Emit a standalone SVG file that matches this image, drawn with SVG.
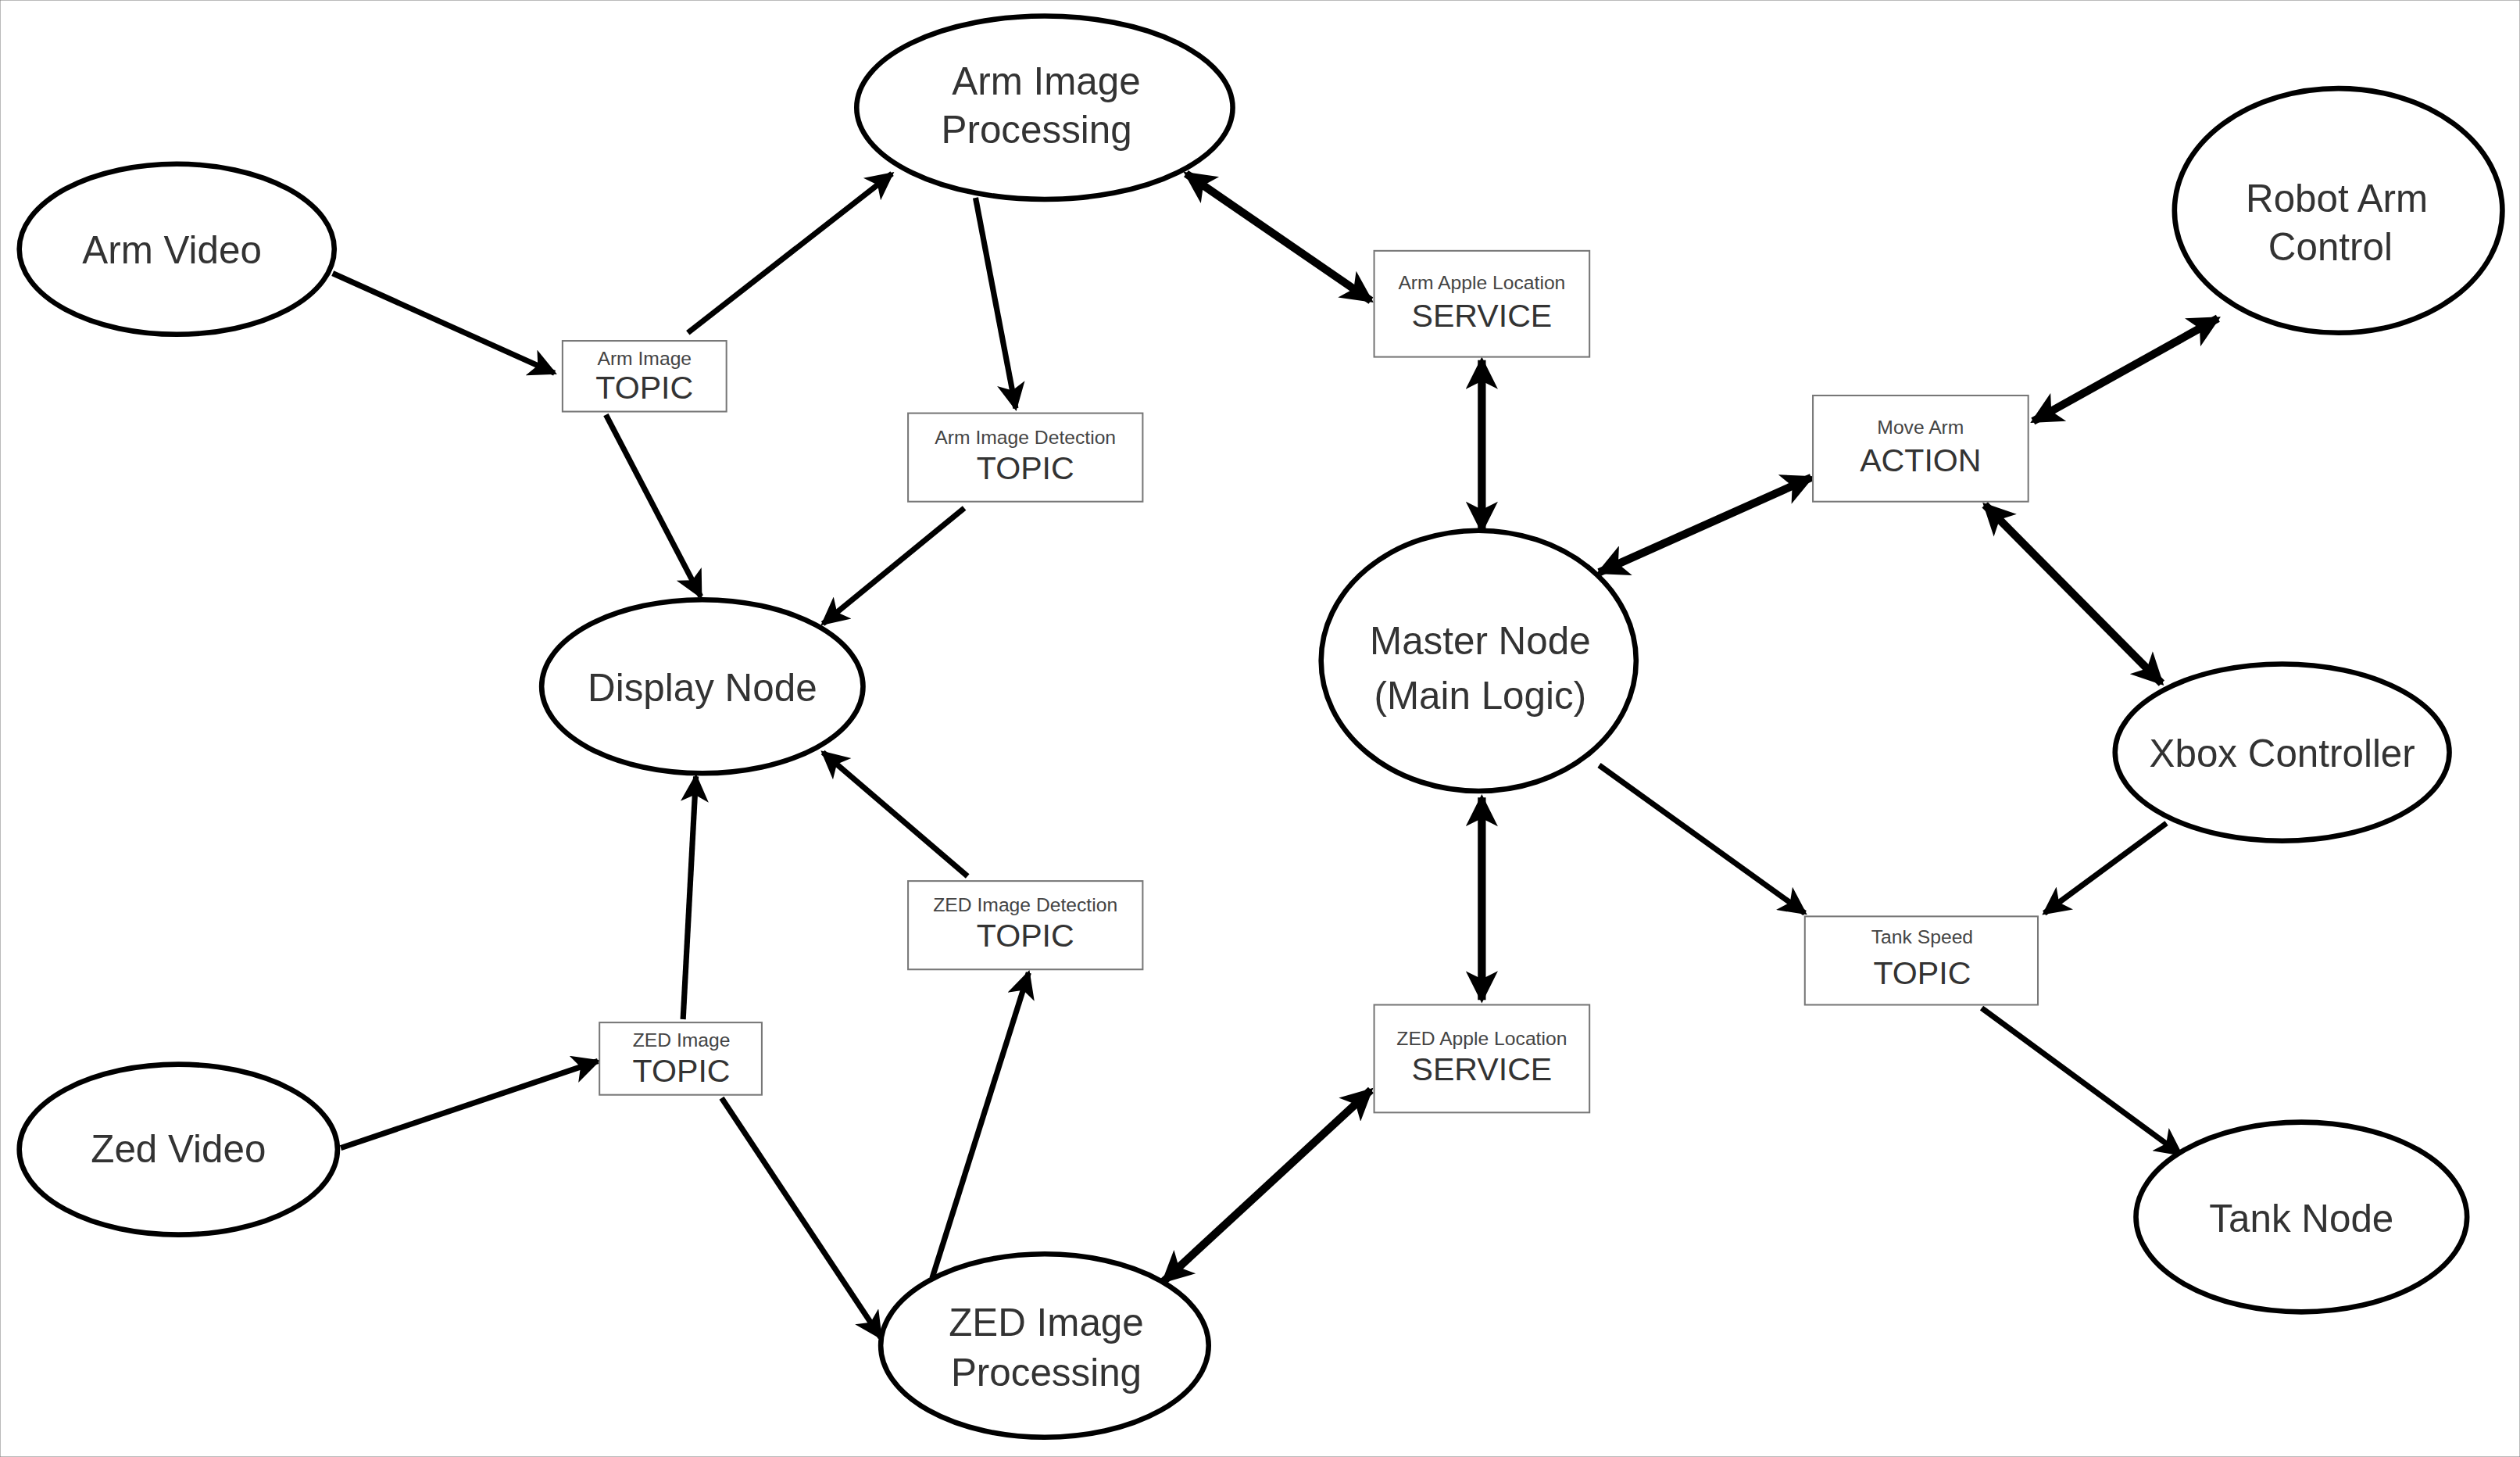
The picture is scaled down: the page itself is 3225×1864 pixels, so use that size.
<svg xmlns="http://www.w3.org/2000/svg" width="3225" height="1864" viewBox="0 0 3225 1864">
<defs>
<marker id="a" viewBox="0 0 10 10" refX="9" refY="5" markerWidth="5.5" markerHeight="5" orient="auto-start-reverse" markerUnits="strokeWidth"><path d="M0,0 L10,5 L0,10 L2.5,5 z" fill="#000"/></marker>
<marker id="b" viewBox="0 0 10 10" refX="9" refY="5" markerWidth="4.2" markerHeight="4" orient="auto-start-reverse" markerUnits="strokeWidth"><path d="M0,0 L10,5 L0,10 L2.5,5 z" fill="#000"/></marker>
</defs>
<style>
ellipse{fill:#fff;stroke:#000;stroke-width:3.2}
rect{fill:#fff;stroke:#777;stroke-width:1}
.n{font-family:"Liberation Sans",Arial,sans-serif;font-size:24px;fill:#333;text-anchor:middle}
.s{font-family:"Liberation Sans",Arial,sans-serif;font-size:12px;fill:#444;text-anchor:middle}
.t{font-family:"Liberation Sans",Arial,sans-serif;font-size:20px;fill:#333;text-anchor:middle}
.e1{stroke:#000;stroke-width:3.5;fill:none;marker-end:url(#a)}
.e2{stroke:#000;stroke-width:5;fill:none;marker-end:url(#b);marker-start:url(#b)}
</style>
<rect x="0" y="0" width="3225" height="1864" fill="#fff" stroke="none"/>
<g transform="scale(2.0568)">
<g id="connectors">
<line class="e1" x1="207" y1="170" x2="345" y2="232"/>
<line class="e1" x1="428" y1="207" x2="555" y2="108"/>
<line class="e1" x1="377" y1="258" x2="436" y2="371"/>
<line class="e1" x1="607" y1="123" x2="632" y2="254"/>
<line class="e1" x1="600" y1="316" x2="512" y2="388"/>
<line class="e2" x1="738" y1="108" x2="853" y2="187"/>
<line class="e2" x1="922" y1="224" x2="922" y2="330"/>
<line class="e2" x1="995" y1="356" x2="1127" y2="297"/>
<line class="e2" x1="1265" y1="262" x2="1380" y2="198"/>
<line class="e2" x1="1235" y1="314" x2="1345" y2="425"/>
<line class="e1" x1="995" y1="476" x2="1123" y2="568"/>
<line class="e1" x1="1348" y1="512" x2="1272" y2="568"/>
<line class="e1" x1="1233" y1="627" x2="1357" y2="718"/>
<line class="e2" x1="922" y1="496" x2="922" y2="622"/>
<line class="e2" x1="853" y1="678" x2="724" y2="797"/>
<line class="e1" x1="580" y1="795" x2="640" y2="605"/>
<line class="e1" x1="602" y1="545" x2="512" y2="468"/>
<line class="e1" x1="425" y1="634" x2="433" y2="483"/>
<line class="e1" x1="212" y1="714" x2="372" y2="660"/>
<line class="e1" x1="449" y1="683" x2="548" y2="832"/>
</g>
<g id="armVideo"><ellipse cx="110" cy="155" rx="98" ry="53"/><text class="n" x="107" y="164">Arm Video</text></g>
<g id="armProc"><ellipse cx="650" cy="67" rx="117" ry="57"/><text class="n" x="651" y="59">Arm Image</text><text class="n" x="645" y="89">Processing</text></g>
<g id="display"><ellipse cx="437" cy="427" rx="100" ry="54"/><text class="n" x="437" y="436">Display Node</text></g>
<g id="zedVideo"><ellipse cx="111" cy="715" rx="99" ry="53"/><text class="n" x="111" y="723">Zed Video</text></g>
<g id="zedProc"><ellipse cx="650" cy="837" rx="102" ry="57"/><text class="n" x="651" y="831">ZED Image</text><text class="n" x="651" y="862">Processing</text></g>
<g id="master"><ellipse cx="920" cy="411" rx="98" ry="81"/><text class="n" x="921" y="407">Master Node</text><text class="n" x="921" y="441">(Main Logic)</text></g>
<g id="robotArm"><ellipse cx="1455" cy="131" rx="102" ry="76"/><text class="n" x="1454" y="132">Robot Arm</text><text class="n" x="1450" y="162">Control</text></g>
<g id="xbox"><ellipse cx="1420" cy="468" rx="104" ry="55"/><text class="n" x="1420" y="477">Xbox Controller</text></g>
<g id="tank"><ellipse cx="1432" cy="757" rx="103" ry="59"/><text class="n" x="1432" y="766">Tank Node</text></g>
<g id="armImageTopic"><rect x="350" y="212" width="102" height="44"/><text class="s" x="401" y="227">Arm Image</text><text class="t" x="401" y="248">TOPIC</text></g>
<g id="armDetTopic"><rect x="565" y="257" width="146" height="55"/><text class="s" x="638" y="276">Arm Image Detection</text><text class="t" x="638" y="298">TOPIC</text></g>
<g id="armSvc"><rect x="855" y="156" width="134" height="66"/><text class="s" x="922" y="180">Arm Apple Location</text><text class="t" x="922" y="203">SERVICE</text></g>
<g id="moveArm"><rect x="1128" y="246" width="134" height="66"/><text class="s" x="1195" y="270">Move Arm</text><text class="t" x="1195" y="293">ACTION</text></g>
<g id="tankTopic"><rect x="1123" y="570" width="145" height="55"/><text class="s" x="1196" y="587">Tank Speed</text><text class="t" x="1196" y="612">TOPIC</text></g>
<g id="zedSvc"><rect x="855" y="625" width="134" height="67"/><text class="s" x="922" y="650">ZED Apple Location</text><text class="t" x="922" y="672">SERVICE</text></g>
<g id="zedDetTopic"><rect x="565" y="548" width="146" height="55"/><text class="s" x="638" y="567">ZED Image Detection</text><text class="t" x="638" y="589">TOPIC</text></g>
<g id="zedImageTopic"><rect x="373" y="636" width="101" height="45"/><text class="s" x="424" y="651">ZED Image</text><text class="t" x="424" y="673">TOPIC</text></g>
</g>
</svg>
